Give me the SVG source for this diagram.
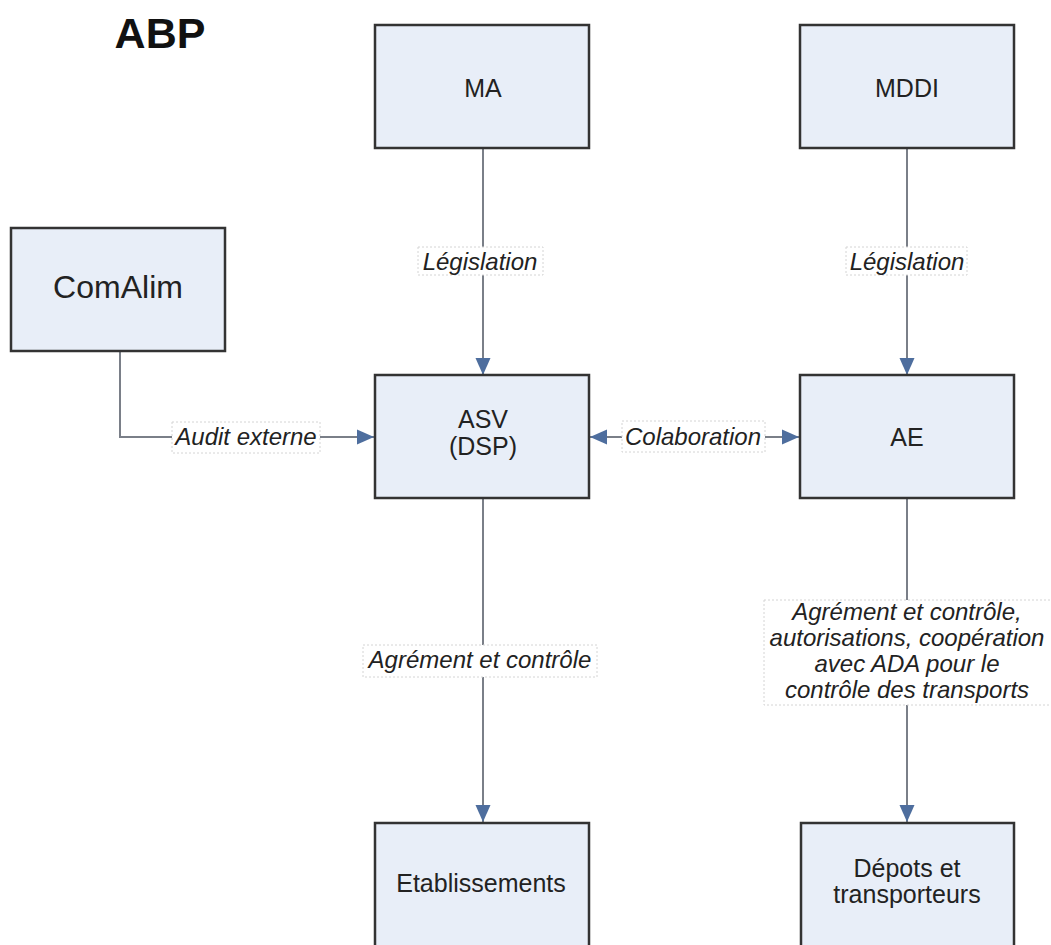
<svg xmlns="http://www.w3.org/2000/svg" width="1051" height="945" viewBox="0 0 1051 945">
<style>
.node rect{fill:#e8eef8;stroke:#333;stroke-width:2.5}
.nt{font-family:"Liberation Sans",Arial,sans-serif;font-size:25px;fill:#222;text-anchor:middle}
.conn{fill:none;stroke:#7a7f88;stroke-width:2}
.lbl rect{fill:#fff;stroke:#d4d4d4;stroke-width:1;stroke-dasharray:2 2}
.lt{font-family:"Liberation Sans",Arial,sans-serif;font-size:24px;font-style:italic;fill:#222;text-anchor:middle}
</style>
<defs>
<marker id="ah" markerUnits="userSpaceOnUse" markerWidth="17" markerHeight="17" viewBox="0 0 17 17" refX="17" refY="8.5" orient="auto-start-reverse">
<path d="M0,1 L17,8.5 L0,16 Z" fill="#4e6e9e"/>
</marker>
</defs>
<rect width="1051" height="945" fill="#fff"/>
<text x="160" y="48" font-family="Liberation Sans,Arial,sans-serif" font-size="43" font-weight="bold" fill="#111" text-anchor="middle">ABP</text>

<g id="connectors">
<path id="c-ma-asv" class="conn" d="M483,149 L483,375" marker-end="url(#ah)"/>
<path id="c-mddi-ae" class="conn" d="M907,149 L907,375" marker-end="url(#ah)"/>
<path id="c-comalim-asv" class="conn" d="M120,350 L120,437 L374,437" marker-end="url(#ah)"/>
<path id="c-asv-ae" class="conn" d="M590,437 L799,437" marker-start="url(#ah)" marker-end="url(#ah)"/>
<path id="c-asv-etab" class="conn" d="M483,498 L483,822" marker-end="url(#ah)"/>
<path id="c-ae-depots" class="conn" d="M907,498 L907,822" marker-end="url(#ah)"/>
<g class="lbl">
<rect x="418" y="247" width="125" height="28"/>
<text class="lt" x="480" y="270">Législation</text>
<rect x="846" y="247" width="121" height="28"/>
<text class="lt" x="907" y="270">Législation</text>
<rect x="172" y="422" width="148" height="31"/>
<text class="lt" x="246" y="445">Audit externe</text>
<rect x="622" y="421" width="143" height="31"/>
<text class="lt" x="693" y="445">Colaboration</text>
<rect x="363" y="645" width="234" height="32"/>
<text class="lt" x="480" y="668">Agrément et contrôle</text>
<rect x="764" y="600" width="290" height="105"/>
<text class="lt" x="907" y="620">Agrément et contrôle,</text>
<text class="lt" x="907" y="646">autorisations, coopération</text>
<text class="lt" x="907" y="672">avec ADA pour le</text>
<text class="lt" x="907" y="698">contrôle des transports</text>
</g>
</g>

<g id="n-ma" class="node"><rect x="375" y="25" width="214" height="123"/><text class="nt" x="483" y="97">MA</text></g>
<g id="n-mddi" class="node"><rect x="800" y="25" width="214" height="123"/><text class="nt" x="907" y="97">MDDI</text></g>
<g id="n-comalim" class="node"><rect x="11" y="228" width="214" height="123"/><text class="nt" x="118" y="298" style="font-size:32px">ComAlim</text></g>
<g id="n-asv" class="node"><rect x="375" y="375" width="214" height="123"/><text class="nt" x="483" y="428">ASV</text><text class="nt" x="483" y="455">(DSP)</text></g>
<g id="n-ae" class="node"><rect x="800" y="375" width="214" height="123"/><text class="nt" x="907" y="446">AE</text></g>
<g id="n-etab" class="node"><rect x="375" y="823" width="214" height="130"/><text class="nt" x="481" y="892">Etablissements</text></g>
<g id="n-depots" class="node"><rect x="801" y="823" width="213" height="130"/><text class="nt" x="907" y="877">Dépots et</text><text class="nt" x="907" y="903">transporteurs</text></g>
</svg>
